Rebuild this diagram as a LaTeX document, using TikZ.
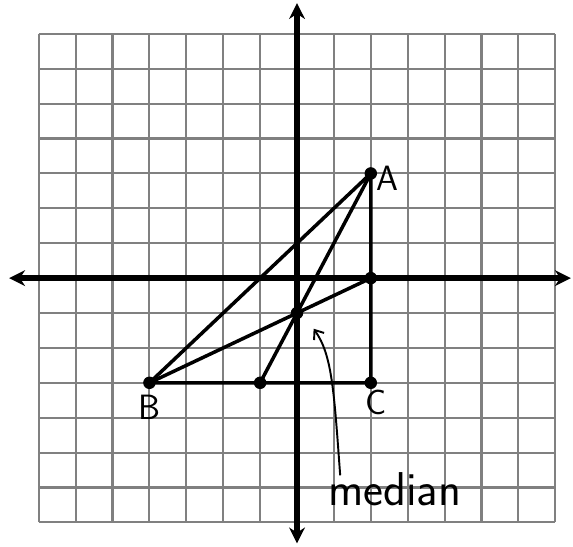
\documentclass[tikz,border=0pt]{standalone}
\usepackage{tikz}
\usetikzlibrary{arrows.meta,positioning,calc}
\tikzset{every picture/.style={line width=0.75pt}}
\tikzset{
    gridline/.style={black!50, line width=2.4pt},
    axisline/.style={line width=6.5pt, -{Stealth[length=18pt,width=18pt]}},
    sideline/.style={line width=4pt},
    vertex/.style={circle, fill=black, inner sep=0pt, minimum size=0.5cm},
    handlabel/.style={font=\sffamily\fontsize{40}{44}\selectfont}
}

\begin{document}
\begin{tikzpicture}[x=1.476cm, y=1.396cm]
    \useasboundingbox (-8.05,-7.68) rectangle (7.48,7.97);
    % 绘制方格纸
    \foreach \k in {-7,...,7} {
        \draw[gridline] (\k,-7) -- (\k,7);
        \draw[gridline] (-7,\k) -- (7,\k);
    }

    % 绘制坐标轴
    \coordinate (O) at (0,0);
    \draw[axisline] (O) -- (7.42,0);
    \draw[axisline] (O) -- (-7.8,0);
    \draw[axisline] (O) -- (0,7.88);
    \draw[axisline] (O) -- (0,-7.6);

    % 三角形顶点与中点
    \node[vertex] (A) at (2,3) {};
    \node[vertex] (B) at (-4,-3) {};
    \node[vertex] (C) at (2,-3) {};
    \node[vertex] (MAC) at (2,0) {};
    \node[vertex] (MBC) at (-1,-3) {};
    \node[vertex] (G) at (0,-1) {};

    % 绘制三角形
    \draw[sideline] (A.center) -- (B.center) -- (C.center) -- cycle;

    % 绘制中线
    \draw[sideline] (A.center) -- (MBC.center);
    \draw[sideline] (B.center) -- (MAC.center);

    % 标注顶点
    \node[handlabel] (labA) at (2.45,2.85) {A};
    \node[handlabel] (labB) at (-4.0,-3.7) {B};
    \node[handlabel] (labC) at (2.15,-3.55) {C};

    % 标注中线
    \node[handlabel, font=\sffamily\fontsize{54}{58}\selectfont] (labM) at (2.65,-6.05) {median};
    \coordinate (tail) at (1.17,-5.65);
    \draw[line width=2.2pt, -{Straight Barb[length=9pt,width=14pt]}]
        (tail) .. controls (1.0,-3.2) and (0.95,-2.2) .. ($(G)+(0.45,-0.45)$);
\end{tikzpicture}
\end{document}
